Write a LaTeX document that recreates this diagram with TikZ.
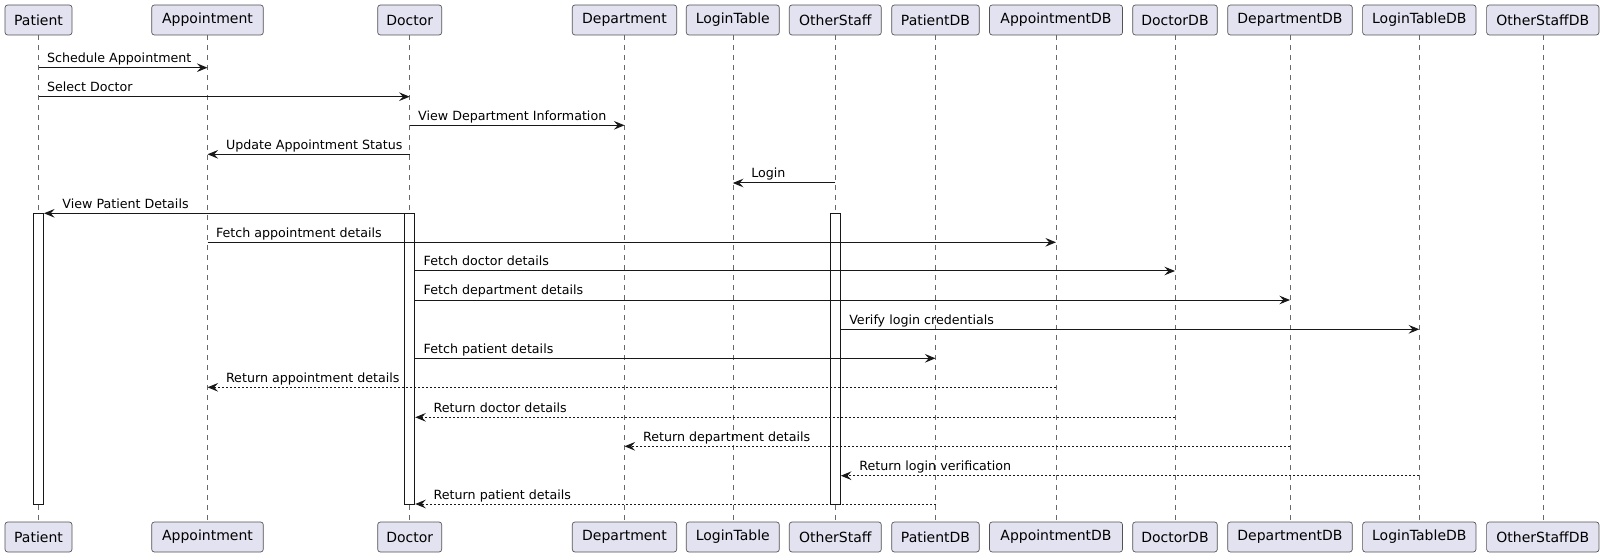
\documentclass[tikz,border=0pt]{standalone}
\usepackage{fontspec}
\setmainfont{DejaVu Sans}
\usetikzlibrary{arrows.meta}
\definecolor{partfill}{HTML}{E2E2F0}
\definecolor{umlline}{HTML}{181818}

\begin{document}
\begin{tikzpicture}[x=0.75pt,y=-0.75pt,>={Stealth[length=8pt,width=6.5pt,inset=3pt]},
    part/.style={draw=umlline!75,line width=0.5pt,fill=partfill,rounded corners=2pt,
        minimum height=22.5pt,inner sep=0pt,font=\fontsize{10.5}{12}\selectfont},
    lifeline/.style={draw=umlline!65,line width=0.45pt,dash pattern=on 3.75pt off 3.75pt},
    actbar/.style={draw=umlline,fill=white,line width=0.75pt,minimum width=7.5pt,
        minimum height=218pt,inner sep=0pt},
    call/.style={->,draw=umlline,line width=0.75pt},
    reply/.style={call,dash pattern=on 1.5pt off 1.5pt},
    msg/.style={anchor=base west,inner sep=0pt,font=\fontsize{9.5}{11}\selectfont}]
    \useasboundingbox (0,0) rectangle (1604,556);
    % participants, head and foot, with their lifelines
    \foreach \name/\x/\w in {Patient/38.5/67,Appointment/207.5/111.6,Doctor/409.7/64,
        Department/624.5/104.4,LoginTable/732.8/93,OtherStaff/835.3/92,
        PatientDB/935.5/87.6,AppointmentDB/1056/133,DoctorDB/1175/84.6,
        DepartmentDB/1290/124.6,LoginTableDB/1419.3/113.3,OtherStaffDB/1542.8/112.3}
    {
        \node [part,minimum width=\w*0.75pt] (\name) at (\x,20) {\name};
        \node [part,minimum width=\w*0.75pt] (\name-foot) at (\x,537) {\name};
        \draw [lifeline] (\name) -- (\name-foot);
    }
    % activations
    \foreach \name in {Patient,Doctor,OtherStaff}
        \node [actbar] (act\name) at (\name |- 0,358.7) {};
    % messages to the right
    \foreach \a/\b/\y/\kind/\txt [count=\i] in {
        Patient/Appointment/67.7/call/Schedule Appointment,
        Patient/Doctor/96.7/call/Select Doctor,
        Doctor/Department/125.3/call/View Department Information,
        Appointment/AppointmentDB/242.3/call/Fetch appointment details,
        actDoctor.east/DoctorDB/271/call/Fetch doctor details,
        actDoctor.east/DepartmentDB/300/call/Fetch department details,
        actOtherStaff.east/LoginTableDB/329.3/call/Verify login credentials,
        actDoctor.east/PatientDB/358.3/call/Fetch patient details}
        \draw [\kind] (\a |- 0,\y) -- (\b |- 0,\y)
            node [msg,at start,xshift=6pt,yshift=3.75pt] (right\i) {\txt};
    % messages to the left
    \foreach \a/\b/\y/\kind/\txt [count=\i] in {
        Doctor/Appointment/154.3/call/Update Appointment Status,
        OtherStaff/LoginTable/183/call/Login,
        Doctor/actPatient.east/213.3/call/View Patient Details,
        AppointmentDB/Appointment/387.3/reply/Return appointment details,
        DoctorDB/actDoctor.east/417.3/reply/Return doctor details,
        DepartmentDB/Department/446.3/reply/Return department details,
        LoginTableDB/actOtherStaff.east/475.7/reply/Return login verification,
        PatientDB/actDoctor.east/504/reply/Return patient details}
        \draw [\kind] (\a |- 0,\y) -- (\b |- 0,\y)
            node [msg,at end,xshift=13.5pt,yshift=3.75pt] (left\i) {\txt};
\end{tikzpicture}
\end{document}
